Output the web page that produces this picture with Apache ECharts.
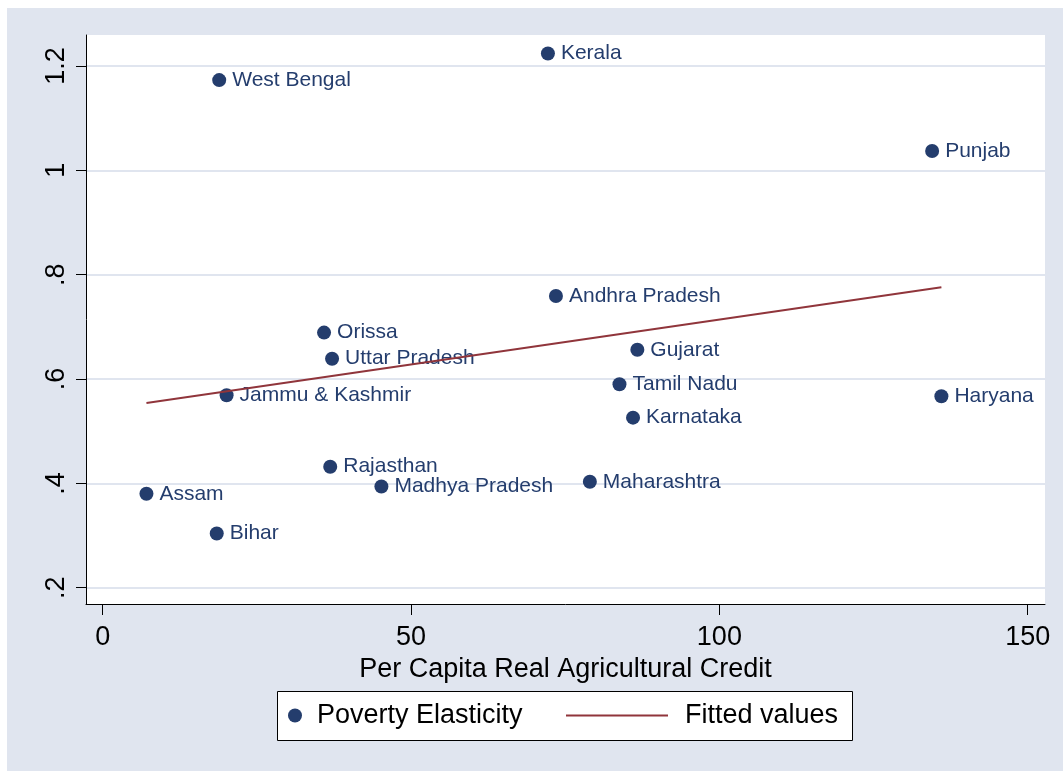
<!DOCTYPE html>
<html>
<head>
<meta charset="utf-8">
<script src="https://cdn.jsdelivr.net/npm/echarts@6/dist/echarts.min.js"></script>
<style>html,body{margin:0;padding:0;background:#fff}#c{width:1063px;height:771px}</style>
</head>
<body>
<div id="c"></div>
<script>
const states = ['Kerala','West Bengal','Punjab','Andhra Pradesh','Orissa','Uttar Pradesh','Gujarat','Tamil Nadu','Jammu & Kashmir','Haryana','Karnataka','Rajasthan','Madhya Pradesh','Maharashtra','Assam','Bihar'];
const credit = [72.2, 18.9, 134.5, 73.5, 35.9, 37.2, 86.7, 83.8, 20.1, 136.0, 86.0, 36.9, 45.2, 79.0, 7.1, 18.5];
const elasticity = [1.224, 1.173, 1.037, 0.759, 0.689, 0.639, 0.656, 0.590, 0.569, 0.567, 0.526, 0.432, 0.394, 0.403, 0.380, 0.304];
const fitX = [7.1, 136.0];
const fitY = [0.554, 0.776];
const xTicks = [0, 50, 100, 150];
const yTicks = [0.2, 0.4, 0.6, 0.8, 1, 1.2];
const yTickLabels = ['.2', '.4', '.6', '.8', '1', '1.2'];
const seriesNames = ['Poverty Elasticity', 'Fitted values'];
const xTitle = 'Per Capita Real Agricultural Credit';

const FONT = '"Liberation Sans", Arial, Helvetica, sans-serif';
const NAVY = '#243d6d';
const MAROON = '#90353b';
const BG = '#e0e5ef';

const chart = echarts.init(document.getElementById('c'), null, {renderer: 'canvas'});

const pts = states.map((s, i) => ({name: s, value: [credit[i], elasticity[i]]}));
const fitData = fitX.map((x, i) => [x, fitY[i]]);

chart.setOption({
  backgroundColor: '#fff',
  animation: false,
  textStyle: {fontFamily: FONT},
  graphic: [
    {type: 'rect', z: -100, silent: true, shape: {x: 7, y: 8, width: 1056, height: 763}, style: {fill: BG}},
    {type: 'rect', z: 0, silent: true, shape: {x: 277.5, y: 691.5, width: 575, height: 49}, style: {fill: '#fff', stroke: '#000', lineWidth: 1}}
  ],
  grid: {left: 86, right: 18, top: 35, bottom: 167, show: true, backgroundColor: '#fff', borderWidth: 0, containLabel: false, outerBoundsMode: 'none'},
  xAxis: {
    type: 'value', min: -2.7, max: 152.8,
    name: xTitle, nameLocation: 'middle', nameGap: 44,
    nameTextStyle: {fontSize: 27, color: '#000', fontFamily: FONT},
    axisLine: {show: true, onZero: false, lineStyle: {color: '#000', width: 1}},
    axisTick: {show: true, length: 11, customValues: xTicks, lineStyle: {color: '#000', width: 1}},
    axisLabel: {customValues: xTicks, margin: 20, fontSize: 27, color: '#000', fontFamily: FONT},
    splitLine: {show: false}
  },
  yAxis: {
    type: 'value', min: 0.1688, max: 1.2594,
    axisLine: {show: true, onZero: false, lineStyle: {color: '#000', width: 1}},
    axisTick: {show: true, length: 10, customValues: yTicks, lineStyle: {color: '#000', width: 1}},
    axisLabel: {
      customValues: yTicks, rotate: 90, margin: 16, fontSize: 27, color: '#000', fontFamily: FONT,
      formatter: v => { const i = yTicks.findIndex(t => Math.abs(t - v) < 1e-6); return i >= 0 ? yTickLabels[i] : ''; }
    },
    splitLine: {show: true, lineStyle: {color: BG, width: 2}}
  },
  legend: [
    {
      data: [{name: seriesNames[0], icon: 'circle', itemStyle: {color: NAVY, opacity: 1}}],
      left: 288, top: 702, padding: 0,
      itemWidth: 14, itemHeight: 14,
      textStyle: {fontSize: 27, color: '#000', fontFamily: FONT, padding: [0, 0, 0, 10]},
      selectedMode: false
    },
    {
      data: [{name: seriesNames[1], icon: 'rect', itemStyle: {color: MAROON, opacity: 1}}],
      left: 566, top: 702, padding: 0,
      itemWidth: 102, itemHeight: 2,
      textStyle: {fontSize: 27, color: '#000', fontFamily: FONT, padding: [0, 0, 0, 12]},
      selectedMode: false
    }
  ],
  series: [
    {
      name: seriesNames[0], type: 'scatter', data: pts,
      symbol: 'circle', symbolSize: 14,
      itemStyle: {color: NAVY, opacity: 1},
      label: {show: true, position: 'right', distance: 6, formatter: p => p.name, color: NAVY, fontSize: 21, fontFamily: FONT}
    },
    {
      name: seriesNames[1], type: 'line', data: fitData,
      symbol: 'none', showSymbol: false,
      lineStyle: {color: MAROON, width: 2},
      itemStyle: {color: MAROON},
      z: 3
    }
  ]
});
</script>
</body>
</html>
